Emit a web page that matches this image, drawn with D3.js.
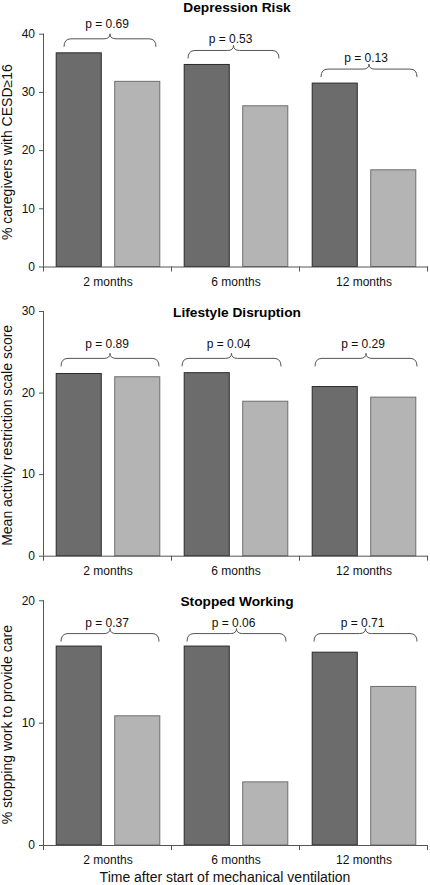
<!DOCTYPE html>
<html><head><meta charset="utf-8">
<script src="https://cdn.jsdelivr.net/npm/d3@7"></script>
<style>
html,body{margin:0;padding:0;background:#fff;}
svg{display:block;font-family:"Liberation Sans",Arial,sans-serif;}
</style></head>
<body>
<svg id="chart" width="430" height="885"></svg>
<script>
// ---- data ----
const categories = ["2 months", "6 months", "12 months"];
const panelTitles = ["Depression Risk", "Lifestyle Disruption", "Stopped Working"];
const yLabels = ["% caregivers with CESD\u226516", "Mean activity restriction scale score", "% stopping work to provide care"];
const xTitle = "Time after start of mechanical ventilation";

const depressionDark  = [36.8, 34.8, 31.6];
const depressionLight = [31.9, 27.7, 16.7];
const lifestyleDark   = [22.4, 22.5, 20.8];
const lifestyleLight  = [22.0, 19.0, 19.5];
const stoppedDark     = [16.3, 16.3, 15.8];
const stoppedLight    = [10.6, 5.2, 13.0];

const depressionP = ["p = 0.69", "p = 0.53", "p = 0.13"];
const lifestyleP  = ["p = 0.89", "p = 0.04", "p = 0.29"];
const stoppedP    = ["p = 0.37", "p = 0.06", "p = 0.71"];

const depressionTicks = [0, 10, 20, 30, 40];
const lifestyleTicks  = [0, 10, 20, 30];
const stoppedTicks    = [0, 10, 20];

// ---- layout ----
const panels = [
  {title: panelTitles[0], ylab: yLabels[0], dark: depressionDark, light: depressionLight, p: depressionP, ticks: depressionTicks,
   y0: 266.5, y1: 33.7, titleY: 12, perGroup: true, braceGap: 5.5,
   braceL: [20, 16, 21], braceR: [16, 21, 11], labDy: [5.5, 2, 2.3]},
  {title: panelTitles[1], ylab: yLabels[1], dark: lifestyleDark, light: lifestyleLight, p: lifestyleP, ticks: lifestyleTicks,
   y0: 555.7, y1: 311, titleY: 317.3, perGroup: false, braceGap: 5.8,
   braceL: [17, 10, 15], braceR: [13, 19, 11], labDy: [5, 5, 5]},
  {title: panelTitles[2], ylab: yLabels[2], dark: stoppedDark, light: stoppedLight, p: stoppedP, ticks: stoppedTicks,
   y0: 845, y1: 600.3, titleY: 606, perGroup: false, braceGap: 4,
   braceL: [17, 15, 14], braceR: [13, 14, 11], labDy: [1.8, 1.8, 1.8]}
];

const xLeft = 44, xRight = 428;
const darkFill = "#6c6c6c", darkStroke = "#2a2a2a";
const lightFill = "#b4b4b4", lightStroke = "#6e6e6e";
const axisColor = "#555";

const svg = d3.select("#chart");

const x = d3.scaleBand().domain(categories).range([xLeft, xRight]).paddingInner(0).paddingOuter(0);
const sub = d3.scaleBand().domain(["dark", "light"]).range([0, x.bandwidth()]).paddingInner(0.213).paddingOuter(0.2);

function bracePath(x1, x2, yEnd, yTip) {
  const yFlat = yTip + 5;
  const xm = (x1 + x2) / 2;
  const r = 7, rc = 6;
  return `M${x1},${yEnd} Q${x1},${yFlat} ${x1 + r},${yFlat} L${xm - rc},${yFlat} Q${xm},${yFlat} ${xm},${yTip} ` +
         `Q${xm},${yFlat} ${xm + rc},${yFlat} L${x2 - r},${yFlat} Q${x2},${yFlat} ${x2},${yEnd}`;
}

panels.forEach((pn, pi) => {
  const maxTick = pn.ticks[pn.ticks.length - 1];
  const y = d3.scaleLinear().domain([0, maxTick]).range([pn.y0, pn.y1]);
  const g = svg.append("g");

  // bars
  categories.forEach((c, i) => {
    [["dark", pn.dark[i], darkFill, darkStroke], ["light", pn.light[i], lightFill, lightStroke]].forEach(([k, v, f, s]) => {
      g.append("rect")
        .attr("x", x(c) + sub(k) + 0.5)
        .attr("y", y(v) + 0.5)
        .attr("width", sub.bandwidth() - 1)
        .attr("height", pn.y0 - y(v) - 0.5)
        .attr("fill", f).attr("stroke", s).attr("stroke-width", 1);
    });
  });

  // y axis
  const yAxis = d3.axisLeft(y).tickValues(pn.ticks).tickSize(5).tickPadding(4).tickFormat(d3.format("d"));
  const ya = g.append("g").attr("transform", `translate(${xLeft},0)`).call(yAxis);
  ya.select(".domain").attr("d", `M-0.5,${pn.y1}V${pn.y0}`);
  ya.selectAll("path,line").attr("stroke", axisColor);
  ya.selectAll("text").attr("font-size", 12).attr("fill", "#111").attr("font-family", "Liberation Sans, Arial, sans-serif");

  // x axis
  const xa = g.append("g").attr("transform", `translate(0,${pn.y0})`);
  xa.append("line").attr("x1", xLeft - 1).attr("x2", xRight).attr("y1", 0.5).attr("y2", 0.5).attr("stroke", axisColor);
  const bounds = categories.map(c => x(c)).concat([xRight]);
  xa.selectAll("line.b").data(bounds).join("line").attr("class", "b")
    .attr("x1", d => Math.round(d) - 0.5).attr("x2", d => Math.round(d) - 0.5)
    .attr("y1", 0).attr("y2", 5).attr("stroke", axisColor);
  xa.selectAll("text").data(categories).join("text")
    .attr("x", d => x(d) + x.bandwidth() / 2).attr("y", 19)
    .attr("text-anchor", "middle").attr("font-size", 12).attr("fill", "#111").text(d => d);

  // title
  g.append("text").attr("x", 237).attr("y", pn.titleY).attr("text-anchor", "middle")
    .attr("font-size", 13.7).attr("font-weight", "bold").attr("fill", "#000").text(pn.title);

  // y label
  g.append("text").attr("transform", `translate(11.5,${(pn.y0 + pn.y1) / 2 + 2}) rotate(-90)`)
    .attr("text-anchor", "middle").attr("font-size", 14).attr("fill", "#111").text(pn.ylab);

  // braces
  const panelMax = d3.max(pn.dark.concat(pn.light));
  categories.forEach((c, i) => {
    const top = pn.perGroup ? Math.max(pn.dark[i], pn.light[i]) : panelMax;
    const yEnd = y(top) - pn.braceGap;
    const yTip = yEnd - 13;
    const x1 = x(c) + pn.braceL[i], x2 = x(c) + x.bandwidth() - pn.braceR[i];
    g.append("path").attr("d", bracePath(x1, x2, yEnd, yTip))
      .attr("fill", "none").attr("stroke", "#555").attr("stroke-width", 1);
    g.append("text").attr("x", (x1 + x2) / 2 - 3).attr("y", yTip - pn.labDy[i])
      .attr("text-anchor", "middle").attr("font-size", 12).attr("fill", "#111").text(pn.p[i]);
  });
});

// x title
svg.append("text").attr("x", 225).attr("y", 882).attr("text-anchor", "middle")
  .attr("font-size", 14).attr("fill", "#111").text(xTitle);
</script>
</body></html>
